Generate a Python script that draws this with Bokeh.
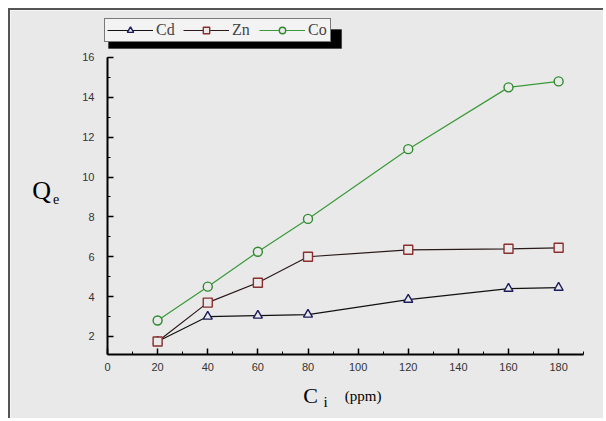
from bokeh.plotting import figure
from bokeh.models import Legend, LegendItem, BoxAnnotation, Label, FixedTicker
from bokeh.embed import file_html
from bokeh.resources import INLINE

ci = [20, 40, 60, 80, 120, 160, 180]
cd = [1.75, 3.0, 3.05, 3.1, 3.85, 4.4, 4.45]
zn = [1.75, 3.7, 4.7, 6.0, 6.35, 6.4, 6.45]
co = [2.8, 4.5, 6.25, 7.9, 11.4, 14.5, 14.8]
x_ticks = [0, 20, 40, 60, 80, 100, 120, 140, 160, 180]
y_ticks = [2, 4, 6, 8, 10, 12, 14, 16]

BG = "#e9e9e9"
p = figure(width=595, height=410, output_backend="svg", toolbar_location=None,
           x_range=(-38.7, 198.7), y_range=(-2.215, 18.357), min_border=0)
p.background_fill_color = BG
p.border_fill_color = BG
p.outline_line_color = None
p.grid.visible = False
p.styles = {"margin-left": "8px", "margin-top": "8px",
            "border-top": "2px solid #555", "border-left": "2px solid #555"}

p.yaxis.fixed_location = 0
p.xaxis.fixed_location = 1.1
for ax in (p.xaxis[0], p.yaxis[0]):
    ax.axis_line_width = 2
    ax.axis_line_color = "black"
    ax.major_tick_in = 6
    ax.major_tick_out = 0
    ax.minor_tick_in = 3
    ax.minor_tick_out = 0
    ax.major_tick_line_width = 1.5
    ax.major_label_text_font = "Liberation Sans"
    ax.major_label_text_font_size = "11px"
    ax.major_label_text_color = "#333333"
p.xaxis.bounds = (0, 190)
p.yaxis.bounds = (1.1, 16)
p.xaxis.ticker = FixedTicker(ticks=x_ticks, minor_ticks=list(range(10, 191, 10)))
p.yaxis.ticker = FixedTicker(ticks=y_ticks, minor_ticks=list(range(2, 17, 1)))
p.xaxis.major_label_standoff = 9
p.yaxis.major_label_standoff = 13

series = [("Cd", cd, "#111111", "#1c1c5a", "triangle"),
          ("Zn", zn, "#2a1a1a", "#8b2e2e", "square"),
          ("Co", co, "#3a9a3a", "#2e8b2e", "circle")]
items = []
for name, ys, lc, mc, mk in series:
    l = p.line(ci, ys, line_color=lc, line_width=1.2)
    s = p.scatter(ci, ys, marker=mk, size=9, line_color=mc, line_width=1.4, fill_color=BG)
    items.append(LegendItem(label=name, renderers=[l, s]))

shadow = BoxAnnotation(left=0.4, right=93.4, bottom=16.45, top=17.4,
                       fill_color="black", fill_alpha=1, line_color="black")
p.add_layout(shadow)

legend = Legend(items=items, orientation="horizontal", location=(94, 378),
                glyph_width=46, glyph_height=16, label_height=16,
                label_text_font="Liberation Serif", label_text_font_size="16px",
                label_standoff=3, spacing=7, padding=2, margin=0,
                border_line_color="black", border_line_width=1.5,
                background_fill_color="#f3f3f3", background_fill_alpha=1)
p.add_layout(legend)

lab = dict(text_font="Liberation Serif", text_color="black", text_align="center",
           text_baseline="middle")
p.add_layout(Label(x=-26.3, y=9.33, text="Q", text_font_size="26px", **lab))
p.add_layout(Label(x=-20.5, y=8.9, text="e", text_font_size="14px", **lab))
p.add_layout(Label(x=81.0, y=-0.96, text="C", text_font_size="22px", **lab))
p.add_layout(Label(x=87.0, y=-1.3, text="i", text_font_size="15px", **lab))
p.add_layout(Label(x=102.0, y=-1.0, text="(ppm)", text_font_size="15px", **lab))

open("out.html", "w").write(file_html(p, INLINE))
